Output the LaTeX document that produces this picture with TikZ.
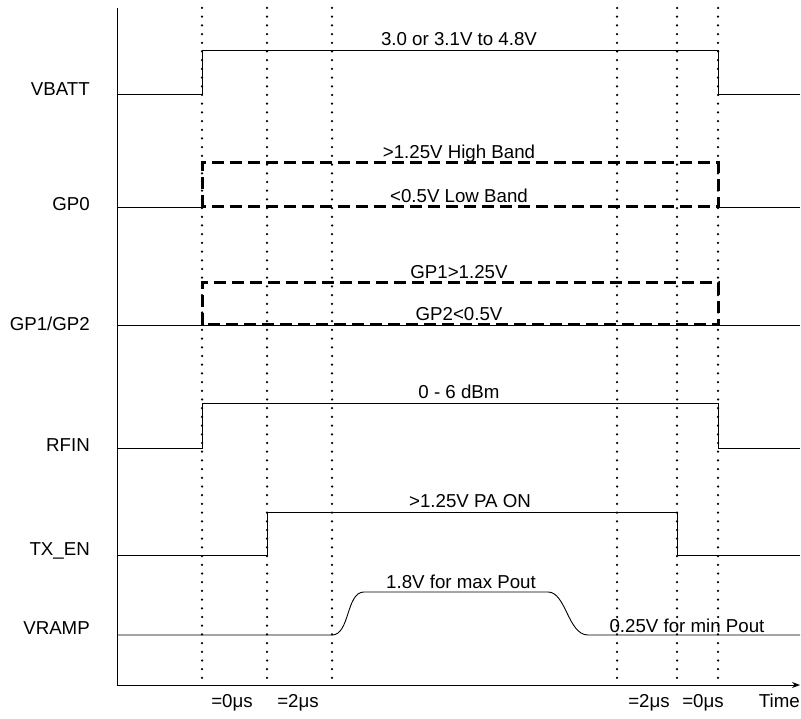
\documentclass[tikz,border=0pt]{standalone}
\usepackage{fontspec}
\setmainfont{Liberation Sans}
\usetikzlibrary{arrows.meta}

\begin{document}
\begin{tikzpicture}[x=1pt,y=-1pt,
  sig/.style={line width=0.9pt},
  band/.style={line width=3pt, dash pattern=on 12pt off 6pt},
  guide/.style={line width=2.5pt, dash pattern=on 0pt off 8.7pt, line cap=round},
  lbl/.style={font=\fontsize{18.7}{22}\selectfont, inner sep=0pt}]
\useasboundingbox (0,0) rectangle (801,719);

% Axes
\draw[line width=1pt] (117,8) -- (117,685);
\draw[line width=1pt, -{Stealth[length=8pt,width=6pt]}] (117,685) -- (800,685);

% Time markers
\draw[guide] (202,8) -- (202,682);
\draw[guide] (267,8) -- (267,682);
\draw[guide] (332,8) -- (332,682);
\draw[guide] (617,8) -- (617,682);
\draw[guide] (677,8) -- (677,682);
\draw[guide] (718,8) -- (718,682);

% VBATT
\draw[sig] (117,94) -- (202,94) -- (202,50) -- (718,50) -- (718,94) -- (800,94);

% GP0
\draw[sig] (117,207) -- (202,207);
\draw[sig] (718,207) -- (800,207);
\draw[band] (202,207) -- (202,163) -- (718,163) -- (718,207) -- cycle;

% GP1/GP2
\draw[sig] (117,325) -- (800,325);
\draw[band] (202,325) -- (202,283) -- (718,283) -- (718,325) -- cycle;

% RFIN
\draw[sig] (117,448) -- (202,448) -- (202,403) -- (718,403) -- (718,448) -- (800,448);

% TX_EN
\draw[sig] (117,555) -- (267,555) -- (267,512) -- (677,512) -- (677,555) -- (800,555);

% VRAMP
\draw[sig] (117,635) -- (332,635) .. controls (350,635) and (346,592) .. (364,592)
  -- (548,592) .. controls (566,592) and (568,635) .. (588,635) -- (800,635);

% Signal names
\node[lbl, anchor=base east] (vbatt) at (90,96) {VBATT};
\node[lbl, anchor=base east] (gpzero) at (90,211) {GP0};
\node[lbl, anchor=base east] (gpone) at (90,331) {GP1/GP2};
\node[lbl, anchor=base east] (rfin) at (90,451) {RFIN};
\node[lbl, anchor=base east] (txen) at (90,555) {TX\_EN};
\node[lbl, anchor=base east] (vramp) at (90,634) {VRAMP};

% Levels
\node[lbl, anchor=base] (vbattlvl) at (459,45.5) {3.0 or 3.1V to 4.8V};
\node[lbl, anchor=base] (highband) at (459,158.5) {>1.25V High Band};
\node[lbl, anchor=base] (lowband) at (459,202.5) {<0.5V Low Band};
\node[lbl, anchor=base] (gponelvl) at (459,278.5) {GP1>1.25V};
\node[lbl, anchor=base] (gptwolvl) at (459,320.5) {GP2<0.5V};
\node[lbl, anchor=base] (rfinlvl) at (459,398.5) {0 - 6 dBm};
\node[lbl, anchor=base] (paon) at (470,507.5) {>1.25V PA ON};
\node[lbl, anchor=base] (maxpout) at (461,588) {1.8V for max Pout};
\node[lbl, anchor=base] (minpout) at (687,632) {0.25V for min Pout};

% Timing
\node[lbl, anchor=base] (tzeroa) at (232,707) {=0μs};
\node[lbl, anchor=base] (ttwoa) at (298,707) {=2μs};
\node[lbl, anchor=base] (ttwob) at (649,707) {=2μs};
\node[lbl, anchor=base] (tzerob) at (703,707) {=0μs};
\node[lbl, anchor=base east] (time) at (800,707) {Time};
\end{tikzpicture}
\end{document}
